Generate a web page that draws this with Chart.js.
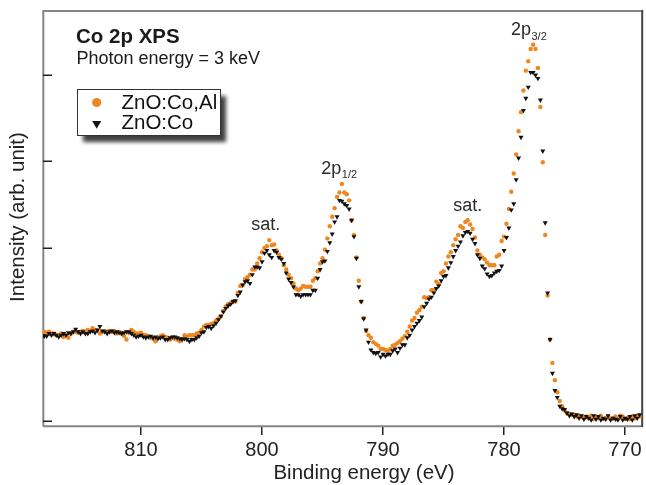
<!DOCTYPE html>
<html><head><meta charset="utf-8">
<script src="https://cdn.jsdelivr.net/npm/chart.js@4.4.0/dist/chart.umd.min.js"></script>
<style>html,body{margin:0;padding:0;background:#fff;overflow:hidden}#wrap{width:646px;height:485px;position:relative}</style>
</head><body><div id="wrap"><canvas id="c" width="646" height="485"></canvas></div>
<script>
// Binding-energy grid (eV), measured in 0.2 eV steps from 818.0 down to 768.8
const energyStart = 818.0;
const energyStep = 0.2;
const xTicks = [810, 800, 790, 780, 770];
const yTicks = [0, 1, 2, 3, 4];
const seriesLabels = ['ZnO:Co,Al', 'ZnO:Co'];

// ZnO:Co,Al (orange circles), arb. units
const intensityCoAl = [
1.03,1.02,1.03,1.01,1.01,0.99,0.99,1.01,0.97,0.99,
0.96,1.01,1.03,1.03,1.02,1.03,1.04,1.03,1.05,1.04,
1.07,1.05,1.04,1.01,1.03,1.04,1.03,1.04,1.03,1.04,
1.01,1.03,1.01,0.98,0.94,1.02,1.05,1.03,1.01,1.01,
1.02,0.99,0.99,0.98,0.96,0.95,0.92,0.96,0.98,0.99,
0.97,0.96,0.94,0.96,0.95,0.94,0.92,0.95,0.99,0.98,
0.99,0.99,0.99,1.01,1.02,1.05,1.09,1.11,1.11,1.12,
1.13,1.16,1.18,1.21,1.27,1.32,1.35,1.36,1.38,1.38,
1.48,1.56,1.57,1.64,1.66,1.69,1.75,1.75,1.82,1.88,
1.95,2.00,2.02,2.09,2.03,2.04,1.97,1.92,1.88,1.80,
1.75,1.69,1.65,1.59,1.53,1.51,1.53,1.56,1.55,1.55,
1.55,1.62,1.65,1.73,1.82,1.88,1.98,2.11,2.25,2.36,
2.46,2.59,2.64,2.74,2.64,2.62,2.55,2.32,2.15,1.89,
1.62,1.38,1.19,1.04,0.99,0.96,0.91,0.89,0.87,0.83,
0.83,0.82,0.81,0.83,0.87,0.88,0.90,0.92,0.95,0.98,
1.03,1.09,1.16,1.19,1.25,1.28,1.32,1.43,1.42,1.43,
1.51,1.51,1.61,1.58,1.71,1.73,1.82,1.90,1.95,2.03,
2.10,2.15,2.25,2.23,2.30,2.32,2.27,2.22,2.12,1.97,
1.92,1.89,1.87,1.83,1.80,1.80,1.80,1.90,1.92,2.08,
2.13,2.28,2.45,2.65,2.86,3.08,3.35,3.57,3.82,4.05,
4.16,4.30,4.35,4.30,4.08,3.63,2.99,2.15,1.45,0.94,
0.67,0.47,0.33,0.23,0.17,0.12,0.09,0.08,0.07,0.07,
0.05,0.06,0.05,0.03,0.05,0.03,0.06,0.02,0.05,0.03,
0.06,0.02,0.03,0.05,0.02,0.03,0.05,0.02,0.06,0.05,
0.02,0.03,0.02,0.05,0.03,0.06,0.05
];

// ZnO:Co (black down-triangles), arb. units
const intensityCo = [
0.98,0.98,1.01,0.99,1.01,0.99,0.97,0.99,1.01,0.99,
1.02,1.01,1.03,1.06,1.03,1.01,1.03,1.01,1.01,1.03,
1.04,1.02,1.05,1.09,1.04,1.03,1.01,1.03,1.04,1.02,
1.03,1.02,1.01,1.02,1.03,1.03,1.01,0.99,0.97,0.98,
0.99,0.97,0.96,0.97,0.98,0.96,0.97,0.95,0.96,0.97,
0.94,0.94,0.96,0.97,0.97,0.96,0.95,0.94,0.95,0.94,
0.92,0.94,0.94,0.96,0.98,1.02,1.03,1.08,1.09,1.07,
1.10,1.13,1.17,1.21,1.26,1.30,1.33,1.35,1.38,1.39,
1.45,1.49,1.57,1.61,1.62,1.59,1.69,1.78,1.78,1.77,
1.84,1.94,1.97,1.92,1.89,1.97,1.95,1.89,1.87,1.82,
1.71,1.64,1.60,1.55,1.46,1.46,1.44,1.46,1.46,1.46,
1.46,1.51,1.51,1.65,1.75,1.84,1.85,1.96,2.06,2.16,
2.30,2.36,2.55,2.54,2.51,2.49,2.45,2.32,2.13,1.88,
1.55,1.38,1.18,1.05,0.91,0.82,0.79,0.78,0.79,0.74,
0.77,0.75,0.77,0.77,0.81,0.83,0.79,0.84,0.88,0.88,
0.96,0.99,1.05,1.09,1.13,1.16,1.20,1.32,1.36,1.41,
1.43,1.48,1.53,1.56,1.62,1.67,1.68,1.77,1.83,1.90,
1.97,2.02,2.07,2.14,2.18,2.19,2.17,2.10,2.05,1.92,
1.88,1.79,1.76,1.70,1.67,1.68,1.71,1.73,1.74,1.79,
1.97,2.12,2.23,2.44,2.51,2.79,3.04,3.28,3.59,3.73,
3.86,4.03,4.03,4.00,3.96,3.71,3.12,2.29,1.48,0.94,
0.55,0.35,0.27,0.17,0.14,0.13,0.09,0.06,0.08,0.05,
0.07,0.03,0.06,0.02,0.05,0.03,0.01,0.06,0.02,0.05,
0.01,0.03,0.02,0.06,0.01,0.03,0.02,0.01,0.05,0.01,
0.03,0.02,0.05,0.01,0.06,0.03,0.07
];

// Peak annotations, anchored in data space (energy, intensity)
const annotationMain = ['sat.', '2p', 'sat.', '2p'];
const annotationSub  = ['', '1/2', '', '3/2'];
const annotationEnergy = [799.7, 795.1, 783.0, 779.43];
const annotationIntensity = [2.21, 2.86, 2.43, 4.46];
const annotationAlign = ['center', 'left', 'center', 'left'];

const energies = intensityCoAl.map((_, i) => +(energyStart - i * energyStep).toFixed(1));
const FONT = '"Liberation Sans", Arial, Helvetica, sans-serif';
const ORANGE = '#F0871E';
const BLACK = '#111111';

const decorPlugin = {
  id: 'decor',
  beforeDatasetsDraw(chart) {
    const ctx = chart.ctx, a = chart.chartArea, ys = chart.scales.y;
    ctx.save();
    // frame
    ctx.lineWidth = 2;
    ctx.strokeStyle = '#858585';
    ctx.beginPath();
    ctx.moveTo(a.left + 0.3, a.bottom + 0.3);
    ctx.lineTo(a.left + 0.3, a.top);
    ctx.lineTo(a.right, a.top);
    ctx.moveTo(a.left, a.bottom + 0.3);
    ctx.lineTo(a.right, a.bottom + 0.3);
    ctx.stroke();
    ctx.strokeStyle = '#444';
    ctx.beginPath();
    ctx.moveTo(a.right + 0.2, a.top - 1);
    ctx.lineTo(a.right + 0.2, a.bottom + 1);
    ctx.stroke();
    // inward y ticks
    ctx.lineWidth = 1.5;
    ctx.strokeStyle = '#222';
    ctx.beginPath();
    yTicks.forEach(v => {
      const y = Math.round(ys.getPixelForValue(v)) + 0.25;
      ctx.moveTo(a.left, y);
      ctx.lineTo(a.left + 9, y);
    });
    ctx.stroke();
    ctx.restore();
  },
  afterDraw(chart) {
    const ctx = chart.ctx, xs = chart.scales.x, ys = chart.scales.y, a = chart.chartArea;
    ctx.save();
    ctx.textBaseline = 'alphabetic';
    // titles
    ctx.fillStyle = '#1a1a1a';
    ctx.textAlign = 'left';
    ctx.font = 'bold 20.5px ' + FONT;
    ctx.fillText('Co 2p XPS', 76, 42.5);
    ctx.font = '18px ' + FONT;
    ctx.fillText('Photon energy = 3 keV', 76.5, 64);
    // peak annotations
    ctx.fillStyle = '#2a2a2a';
    annotationMain.forEach((t, i) => {
      const x = xs.getPixelForValue(annotationEnergy[i]);
      const y = ys.getPixelForValue(annotationIntensity[i]);
      ctx.font = '18px ' + FONT;
      ctx.textAlign = annotationAlign[i];
      ctx.fillText(t, x, y);
      if (annotationSub[i]) {
        const w = ctx.measureText(t).width;
        ctx.font = '11px ' + FONT;
        ctx.textAlign = 'left';
        ctx.fillText(annotationSub[i], x + w + 0.5, y + 4.5);
      }
    });
    // axis titles
    ctx.fillStyle = '#222';
    ctx.font = '20.5px ' + FONT;
    ctx.textAlign = 'center';
    ctx.fillText('Binding energy (eV)', 364, 479);
    ctx.save();
    ctx.translate(24, 217);
    ctx.rotate(-Math.PI / 2);
    ctx.fillText('Intensity (arb. unit)', 0, 0);
    ctx.restore();
    // legend box with drop shadow
    const bx = 77.5, by = 89.5, bw = 143, bh = 46;
    ctx.save();
    ctx.shadowColor = 'rgba(0,0,0,0.75)';
    ctx.shadowBlur = 4;
    ctx.shadowOffsetX = 5;
    ctx.shadowOffsetY = 6;
    ctx.fillStyle = '#fff';
    ctx.fillRect(bx, by, bw, bh);
    ctx.restore();
    ctx.lineWidth = 1;
    ctx.strokeStyle = '#333';
    ctx.strokeRect(bx, by, bw, bh);
    chart.data.datasets.slice().reverse().forEach((ds, k) => {
      const cy = k === 0 ? 102.5 : 123.5;
      ctx.fillStyle = ds.backgroundColor;
      ctx.strokeStyle = ds.backgroundColor;
      Chart.helpers.drawPoint(ctx, {
        pointStyle: ds.pointStyle, rotation: ds.rotation || 0,
        radius: ds.pointStyle === 'circle' ? 4.6 : 5.2, borderWidth: 0
      }, 96.7, cy);
      ctx.fillStyle = '#111';
      ctx.font = '20.5px ' + FONT;
      ctx.textAlign = 'left';
      ctx.fillText(ds.label, 121.5, k === 0 ? 108.5 : 128.5);
    });
    ctx.restore();
  }
};

new Chart(document.getElementById('c'), {
  type: 'scatter',
  data: {
    datasets: [
      {
        label: seriesLabels[1],
        data: energies.map((e, i) => ({ x: e, y: intensityCo[i] })),
        pointStyle: 'triangle', rotation: 180, pointRadius: 2.9,
        backgroundColor: BLACK, borderColor: BLACK, borderWidth: 0
      },
      {
        label: seriesLabels[0],
        data: energies.map((e, i) => ({ x: e, y: intensityCoAl[i] })),
        pointStyle: 'circle', pointRadius: 2.2,
        backgroundColor: ORANGE, borderColor: ORANGE, borderWidth: 0
      }
    ]
  },
  options: {
    responsive: false,
    devicePixelRatio: 1,
    animation: false,
    layout: { padding: { top: 11, right: 1, left: 0, bottom: 0 } },
    plugins: { legend: { display: false }, tooltip: { enabled: false } },
    scales: {
      x: {
        type: 'linear', reverse: true, min: 768.6, max: 818.1,
        afterBuildTicks: s => { s.ticks = xTicks.map(v => ({ value: v })); },
        afterFit: s => { s.height = 59; },
        ticks: { font: { size: 20, family: FONT }, color: '#222', padding: 3, maxRotation: 0, autoSkip: false },
        grid: { drawOnChartArea: false, drawTicks: true, tickLength: 9, color: '#222', lineWidth: 1.5 },
        border: { display: false }
      },
      y: {
        type: 'linear', min: -0.06, max: 4.74,
        afterBuildTicks: s => { s.ticks = yTicks.map(v => ({ value: v })); },
        afterFit: s => { s.width = 43; },
        ticks: { display: false },
        grid: { display: false },
        border: { display: false }
      }
    }
  },
  plugins: [decorPlugin]
});
</script>
</body></html>
